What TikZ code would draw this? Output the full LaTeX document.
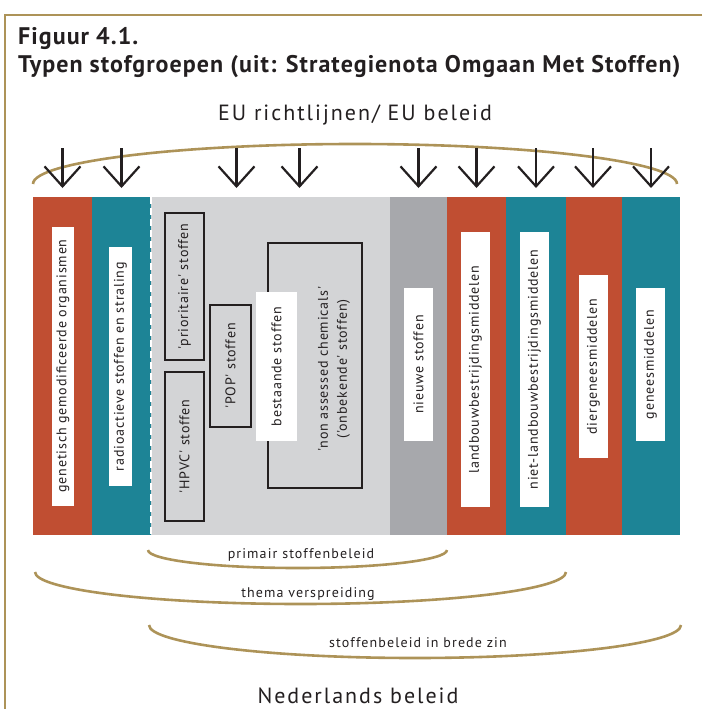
\documentclass[tikz,border=0pt]{standalone}
\usepackage{fontspec}
\setmainfont{PT Sans}[Ligatures=TeXOff]
\usepackage{xcolor}
\definecolor{colorRed}{HTML}{C04E32}
\definecolor{colorTeal}{HTML}{1D8496}
\definecolor{colorLight}{HTML}{D3D4D6}
\definecolor{colorGrey}{HTML}{A7A8AC}
\definecolor{colorGold}{HTML}{AD9358}
\definecolor{colorInk}{HTML}{231F20}
\usetikzlibrary{arrows.meta, positioning}
\newcommand{\wide}[1]{\addfontfeatures{LetterSpace=#1}}
\tikzset{
  band/.style={inner sep=0pt, outer sep=0pt, anchor=north west, minimum height=338pt},
  tag/.style={fill=white, rotate=90, inner sep=0pt, minimum height=29pt, text=colorInk, font=\fontsize{14}{16}\selectfont\wide{6}},
  framed/.style={tag, fill=none, draw=colorInk, line width=2pt},
  brace/.style={draw=colorGold, line width=2.6pt},
  euarrow/.style={draw=colorInk, line width=2.2pt, -{Straight Barb[length=20pt, width=36pt]}},
  caption/.style={text=colorInk, font=\fontsize{14}{16}\selectfont\wide{8}, anchor=base},
  heading/.style={anchor=base west, inner sep=0pt, text=colorInk, font=\fontsize{24}{28}\selectfont\bfseries\wide{4.3}},
  policy/.style={anchor=base, inner sep=0pt, text=colorInk, font=\fontsize{22}{26}\selectfont\wide{9}},
}

\begin{document}
\begin{tikzpicture}[x=1pt, y=-1pt]
\useasboundingbox (0,0) rectangle (702,709);
\draw[colorGold, line width=2.5pt] (702,15) -- (5,15) -- (5,709);

% title
\node[heading] (fig) at (18,45) {Figuur 4.1.};
\node[heading] (title) at (18,72) {Typen stofgroepen (uit: Strategienota Omgaan Met Stoffen)};
\node[policy] (eu) at (355,120) {EU richtlijnen/ EU beleid};

% the coloured bands
\node[band, fill=colorRed, minimum width=59pt] (gmo) at (33,197) {};
\node[band, fill=colorTeal, minimum width=59pt, right=0pt of gmo] (rad) {};
\node[band, fill=colorLight, minimum width=239pt, right=0pt of rad] (chem) {};
\node[band, fill=colorGrey, minimum width=57pt, right=0pt of chem] (new) {};
\node[band, fill=colorRed, minimum width=59pt, right=0pt of new] (agri) {};
\node[band, fill=colorTeal, minimum width=60pt, right=0pt of agri] (biocide) {};
\node[band, fill=colorRed, minimum width=56pt, right=0pt of biocide] (vet) {};
\node[band, fill=colorTeal, minimum width=58pt, right=0pt of vet] (med) {};
\draw[white, line width=1.5pt, dash pattern=on 7pt off 4pt] (chem.north west) -- (chem.south west);

\draw[brace] (33,184) arc[start angle=180, end angle=0, x radius=322pt, y radius=40pt];
\foreach \b/\dx in {gmo/0, rad/0, chem/-34, chem/29, new/0, agri/0, biocide/0, vet/-1, med/0}
  \draw[euarrow] ([shift={(\dx,-49)}]\b.north) -- ([shift={(\dx,-9)}]\b.north);

% labels in the bands
\node[tag, minimum width=279pt, minimum height=22pt] (tgmo) at (63,366) {genetisch gemodificeerde organismen};
\node[tag, minimum width=239pt, minimum height=23pt] (trad) at (120.5,366.5) {radioactieve stoffen en straling};
\node[framed, minimum width=147pt, minimum height=39pt] (prio) at (184.5,286.5) {'prioritaire' stoffen};
\node[framed, minimum width=149pt, minimum height=39pt] (hpvc) at (184.5,446.5) {'HPVC' stoffen};
\node[framed, minimum width=122pt, minimum height=41pt] (pop) at (230.5,366) {'POP' stoffen};
\node[framed, minimum width=245pt, minimum height=94pt] (nac) at (315,365.5) {};
\node[tag, fill=none, align=center, font=\fontsize{14}{19}\selectfont\wide{6}] (tnac) at (334,369) {'non assessed chemicals'\\('onbekende' stoffen)};
\node[tag, minimum width=149pt, minimum height=41pt] (exist) at (276.5,366.5) {bestaande stoffen};
\node[tag, minimum width=153pt] (tnew) at (418.5,364.5) {nieuwe stoffen};
\node[tag, minimum width=275pt] (tagri) at (475.5,369.5) {landbouwbestrijdingsmiddelen};
\node[tag, minimum width=275pt] (tbio) at (534.5,369.5) {niet-landbouwbestrijdingsmiddelen};
\node[tag, minimum width=183pt] (tvet) at (593.5,366.5) {diergeneesmiddelen};
\node[tag, minimum width=153pt] (tmed) at (650.5,364.5) {geneesmiddelen};

% Dutch policy scopes
\draw[brace] (148,550) arc[start angle=180, end angle=360, x radius=149.5pt, y radius=18pt];
\node[caption] (primair) at (301,558) {primair stoffenbeleid};
\draw[brace] (35,572) arc[start angle=180, end angle=360, x radius=265.5pt, y radius=32pt];
\node[caption] (thema) at (308,597) {thema verspreiding};
\draw[brace] (149,625) arc[start angle=180, end angle=360, x radius=266pt, y radius=33pt];
\node[caption] (breed) at (418,647) {stoffenbeleid in brede zin};
\node[policy] (nl) at (358,703) {Nederlands beleid};
\end{tikzpicture}
\end{document}
